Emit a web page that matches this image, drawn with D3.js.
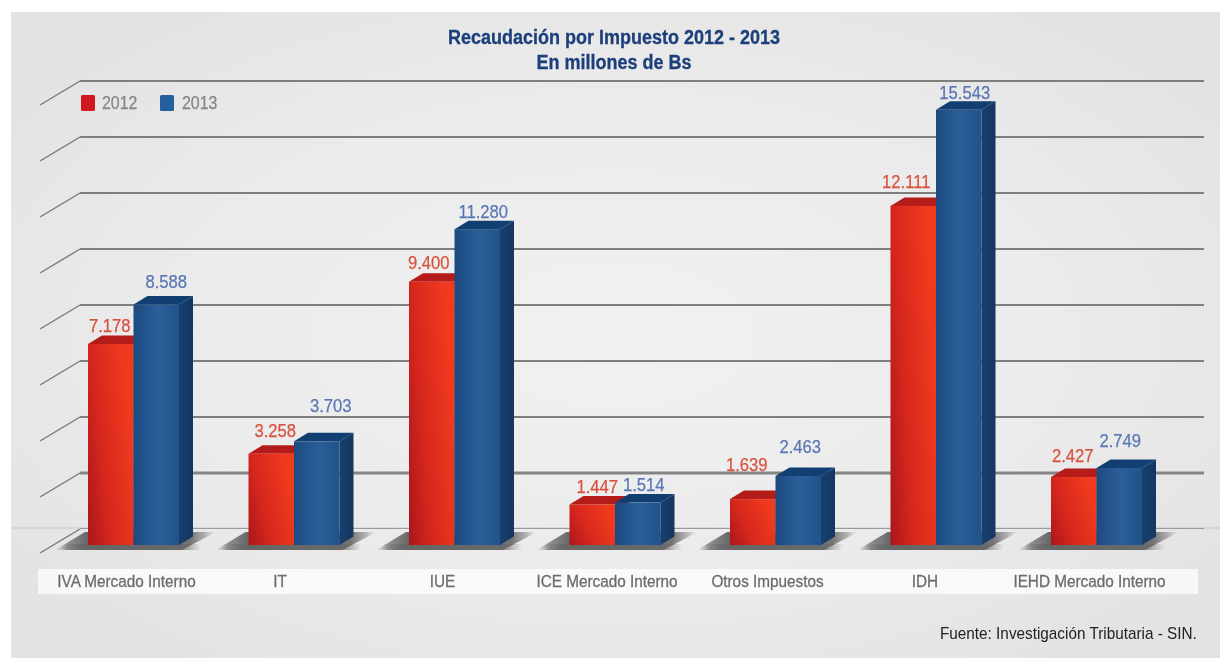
<!DOCTYPE html>
<html><head><meta charset="utf-8">
<script src="https://cdn.jsdelivr.net/npm/d3@7/dist/d3.min.js"></script>
<style>
html,body{margin:0;padding:0;background:#fff}
svg{display:block}
text{font-family:"Liberation Sans",Arial,sans-serif}
</style></head><body>
<svg id="c" width="1220" height="659"></svg>
<script>
const categories=["IVA Mercado Interno","IT","IUE","ICE Mercado Interno","Otros Impuestos","IDH","IEHD Mercado Interno"];
const values2012=[7178,3258,9400,1447,1639,12111,2427];
const values2013=[8588,3703,11280,1514,2463,15543,2749];
const seriesNames=["2012","2013"];
const gridTicks=[0,2000,4000,6000,8000,10000,12000,14000,16000];
const titleLines=["Recaudación por Impuesto 2012 - 2013","En millones de Bs"];
const sourceNote="Fuente: Investigación Tributaria - SIN.";

// hand placement of the labels, as in the original artwork
const catNudge=[-7,-14,-12,-8,-8,-11,-7];
const labelDx=[[-1,4,-3,5,-6,-7,-1],[10,14,6,6,2,6,1]];
const labelDy=[[-19,-23,-19,-17.5,-35,-24,-22],[-23.5,-36,-18,-18.6,-30,-17,-28]];

const svg=d3.select("#c");
const defs=svg.append("defs");
function grad(id,attrs,stops){
  const g=defs.append("linearGradient").attr("id",id);
  Object.entries(attrs).forEach(([k,v])=>g.attr(k,v));
  stops.forEach(s=>g.append("stop").attr("offset",s[0]).attr("stop-color",s[1]).attr("stop-opacity",s[2]==null?1:s[2]));
}
grad("gRed",{x1:0,y1:1,x2:1,y2:.55},[[0,"#ab161b"],[.45,"#d8281d"],[1,"#ef3a1e"]]);
grad("gBlue",{x1:0,y1:0,x2:1,y2:0},[[0,"#1c4a80"],[.55,"#2b5f99"],[1,"#215288"]]);
grad("gSide",{x1:0,y1:0,x2:1,y2:0},[[0,"#17406e"],[1,"#133761"]]);
grad("gShadow",{x1:0,y1:0,x2:1,y2:0},[[0,"#777",0],[.08,"#6a6a6a",.7],[.2,"#606060",.95],[.84,"#666",.9],[.93,"#888",.6],[1,"#aaa",0]]);
grad("gStrip",{x1:0,y1:0,x2:1,y2:0},[[0,"#666",0],[.16,"#666",.8],[.85,"#666",.8],[1,"#666",0]]);
const bgG=defs.append("radialGradient").attr("id","gBg").attr("cx",.5).attr("cy",.5).attr("r",.62);
bgG.append("stop").attr("offset",0).attr("stop-color","#f1f1f1");
bgG.append("stop").attr("offset",.6).attr("stop-color","#ebebeb");
bgG.append("stop").attr("offset",1).attr("stop-color","#e3e3e3");

function condense(sel,r){
  sel.each(function(){
    const w=this.getComputedTextLength();
    d3.select(this).attr("textLength",w*r).attr("lengthAdjust","spacingAndGlyphs");
  });
  return sel;
}

const root=svg.append("g").style("filter","blur(.45px)");
root.append("rect").attr("x",11).attr("y",12).attr("width",1209).attr("height",646).attr("fill","url(#gBg)");

// scales
const y=d3.scaleLinear().domain([0,16000]).range([529,81]);
const x0=d3.scaleBand().domain(categories).range([88,1142]).paddingInner(.433);
const x1=d3.scaleBand().domain(seriesNames).range([0,x0.bandwidth()]);
const FLOOR=16, DX=14, DY=-8.5;
const seriesVals=[values2012,values2013];

// grid
const grid=root.append("g");
grid.selectAll("g").data(gridTicks).join("g").each(function(t){
  const g=d3.select(this), yy=y(t), isZero=t===0;
  g.append("path").attr("d",`M40,${yy+24}L80,${yy}`).attr("fill","none").attr("stroke","#777").attr("stroke-width",1.4);
  if(isZero){
    g.append("line").attr("x1",11).attr("x2",1220).attr("y1",yy-1).attr("y2",yy-1).attr("stroke","#c4c6da").attr("stroke-width",1);
    g.append("line").attr("x1",80).attr("x2",1204).attr("y1",yy-.5).attr("y2",yy-.5).attr("stroke","#9a9aa2").attr("stroke-width",1);
  }else{
    g.append("line").attr("x1",80).attr("x2",1204).attr("y1",yy).attr("y2",yy).attr("stroke",t===2000?"#858585":"#7e7e7e").attr("stroke-width",t===2000?2.8:1.9);
  }
});

// floor shadows
const base=y(0)+FLOOR;
const shadows=root.append("g");
shadows.selectAll("path").data(categories).join("path")
  .attr("d",c=>{const a=x0(c),b=a+x0.bandwidth();return `M${a-33},${base+5}L${a-3},${base-13}H${b+37}L${b+3},${base+5}Z`;})
  .attr("fill","url(#gShadow)");
shadows.selectAll("rect").data(categories).join("rect")
  .attr("x",c=>x0(c)-26).attr("y",base-1).attr("width",c=>x0.bandwidth()+48).attr("height",6)
  .attr("fill","url(#gStrip)");

// bars
const bars=root.append("g");
seriesNames.forEach((s,si)=>{
  const g=bars.append("g");
  const w=x1.bandwidth();
  categories.forEach((c,i)=>{
    const v=seriesVals[si][i], X=x0(c)+x1(s), T=y(v)+FLOOR, H=base-T;
    const b=g.append("g");
    b.append("path").attr("d",`M${X+w},${T}l${DX},${DY}V${base+DY}L${X+w},${base}Z`)
      .attr("fill",si?"url(#gSide)":"#8e1414");
    b.append("path").attr("d",`M${X},${T}l${DX},${DY}H${X+w+DX}L${X+w},${T}Z`)
      .attr("fill",si?"#123f72":"#b51b18");
    b.append("rect").attr("x",X).attr("y",T).attr("width",w).attr("height",H)
      .attr("fill",si?"url(#gBlue)":"url(#gRed)");
  });
});

// value labels
const fmt=d3.formatLocale({decimal:",",thousands:".",grouping:[3],currency:["",""]}).format(",d");
const lab=root.append("g");
seriesNames.forEach((s,si)=>{
  const col=si?"#5a77b5":"#d9523f";
  const t=lab.append("g").selectAll("text").data(categories).join("text")
    .attr("x",(c,i)=>x0(c)+x1(s)+x1.bandwidth()/2+labelDx[si][i])
    .attr("y",(c,i)=>y(seriesVals[si][i])+FLOOR+labelDy[si][i])
    .attr("text-anchor","middle").attr("dominant-baseline","central")
    .attr("font-size",18.5)
    .attr("fill",col).attr("stroke",col).attr("stroke-width",.25)
    .text((c,i)=>fmt(seriesVals[si][i]));
  condense(t,.9);
});

// category strip
root.append("rect").attr("x",38).attr("y",569).attr("width",1160).attr("height",25).attr("fill","#fff").attr("opacity",.75);
condense(root.append("g").selectAll("text").data(categories).join("text")
  .attr("x",(c,i)=>x0(c)+x0.bandwidth()/2+catNudge[i]).attr("y",581)
  .attr("text-anchor","middle").attr("dominant-baseline","central")
  .attr("font-size",17).attr("fill","#6c6c6c").attr("stroke","#6c6c6c").attr("stroke-width",.3).text(c=>c),.9);

// title
condense(root.append("g").selectAll("text").data(titleLines).join("text")
  .attr("x",614).attr("y",(d,i)=>37+i*25)
  .attr("text-anchor","middle").attr("dominant-baseline","central")
  .attr("font-size",20).attr("font-weight",700).attr("fill","#1c3f7c").attr("stroke","#1c3f7c").attr("stroke-width",.3).text(d=>d),.9);

// legend
const leg=root.append("g").selectAll("g").data(seriesNames).join("g");
leg.append("rect").attr("x",(d,i)=>81+i*79).attr("y",95).attr("width",14).attr("height",16).attr("rx",1.5)
  .attr("fill",(d,i)=>i?"#24609f":"#d0191f");
condense(leg.append("text").attr("x",(d,i)=>102+i*80).attr("y",102.5).attr("dominant-baseline","central")
  .attr("font-size",18.5).attr("fill","#858585").attr("stroke","#858585").attr("stroke-width",.25).text(d=>d),.86);

// source
condense(root.append("text").attr("x",940).attr("y",633).attr("dominant-baseline","central")
  .attr("font-size",16.2).attr("fill","#222").text(sourceNote),.945);
</script>
</body></html>
